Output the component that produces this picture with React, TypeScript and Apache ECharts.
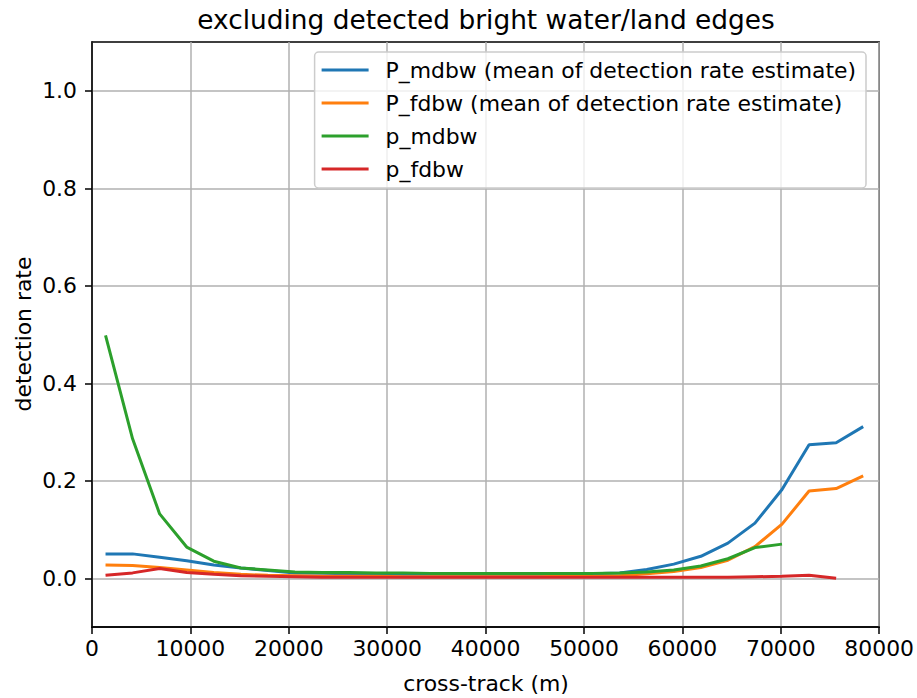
import React, { useEffect, useRef } from "react";
import * as echarts from "echarts";

const crossTrack = [
  1375, 4125, 6875, 9625, 12375, 15125, 17875, 20625, 23375, 26125, 28875,
  31625, 34375, 37125, 39875, 42625, 45375, 48125, 50875, 53625, 56375,
  59125, 61875, 64625, 67375, 70125, 72875, 75625, 78375,
];

const PmdbwMean = [
  0.05, 0.05, 0.043, 0.036, 0.027, 0.021, 0.016, 0.011, 0.01, 0.009, 0.009,
  0.008, 0.008, 0.008, 0.008, 0.008, 0.008, 0.009, 0.009, 0.011, 0.018,
  0.029, 0.045, 0.072, 0.113, 0.182, 0.274, 0.278, 0.311,
];

const PfdbwMean = [
  0.027, 0.026, 0.022, 0.017, 0.012, 0.008, 0.006, 0.005, 0.004, 0.004,
  0.004, 0.003, 0.003, 0.003, 0.003, 0.003, 0.003, 0.004, 0.004, 0.005,
  0.009, 0.014, 0.022, 0.037, 0.065, 0.111, 0.179, 0.184, 0.21,
];

const pMdbw = [
  0.498, 0.286, 0.132, 0.064, 0.035, 0.021, 0.017, 0.013, 0.012, 0.012,
  0.011, 0.011, 0.01, 0.01, 0.01, 0.01, 0.01, 0.01, 0.01, 0.011, 0.013,
  0.017, 0.025, 0.04, 0.063, 0.07,
];

const pFdbw = [
  0.006, 0.011, 0.02, 0.012, 0.008, 0.005, 0.004, 0.003, 0.002, 0.002,
  0.002, 0.002, 0.002, 0.002, 0.002, 0.002, 0.002, 0.002, 0.002, 0.002,
  0.002, 0.002, 0.002, 0.002, 0.003, 0.004, 0.006, 0.0,
];

const seriesNames = [
  "P_mdbw (mean of detection rate estimate)",
  "P_fdbw (mean of detection rate estimate)",
  "p_mdbw",
  "p_fdbw",
];
const seriesColors = ["#1f77b4", "#ff7f0e", "#2ca02c", "#d62728"];
const yTicks = [0, 0.2, 0.4, 0.6, 0.8, 1.0];

const FONT = "DejaVu Sans";
const FS = 21.9;

export default function App() {
  const ref = useRef<HTMLDivElement>(null);

  useEffect(() => {
    if (!ref.current) return;
    const chart = echarts.init(ref.current, undefined, { renderer: "svg" });
    const allValues = [PmdbwMean, PfdbwMean, pMdbw, pFdbw];
    const series = allValues.map((vals, k) => ({
      name: seriesNames[k],
      type: "line",
      data: vals.map((v, i) => [crossTrack[i], v]),
      showSymbol: false,
      symbol: "none",
      lineStyle: { color: seriesColors[k], width: 3 },
      itemStyle: { color: seriesColors[k] },
      color: seriesColors[k],
    }));

    chart.setOption({
      animation: false,
      backgroundColor: "#ffffff",
      textStyle: { fontFamily: FONT, color: "#000" },
      grid: {
        left: 92,
        right: 37,
        top: 42,
        bottom: 71,
        show: true,
        borderColor: "#000",
        borderWidth: 1.5,
        backgroundColor: "transparent",
      },
      xAxis: {
        type: "value",
        min: 0,
        max: 80000,
        interval: 10000,
        axisLine: { show: true, onZero: false, lineStyle: { color: "#000", width: 1.5 } },
        axisTick: { show: true, inside: false, length: 7, lineStyle: { color: "#000", width: 1.5 } },
        axisLabel: {
          color: "#000",
          fontSize: FS,
          fontFamily: FONT,
          margin: 10,
          formatter: (v: number) => String(v),
        },
        splitLine: { show: true, lineStyle: { color: "#b0b0b0", width: 1.5 } },
      },
      yAxis: {
        type: "value",
        min: -0.1,
        max: 1.1,
        axisLine: { show: true, onZero: false, lineStyle: { color: "#000", width: 1.5 } },
        axisTick: {
          show: true,
          inside: false,
          length: 7,
          customValues: yTicks,
          lineStyle: { color: "#000", width: 1.5 },
        },
        axisLabel: {
          color: "#000",
          fontSize: FS,
          fontFamily: FONT,
          margin: 15,
          customValues: yTicks,
          formatter: (v: number) => v.toFixed(1),
        },
        splitLine: { show: true, lineStyle: { color: "#b0b0b0", width: 1.5 } },
      },
      legend: {
        show: true,
        orient: "vertical",
        right: 51,
        top: 52,
        itemWidth: 47,
        itemHeight: 3,
        itemGap: 9,
        icon: "rect",
        padding: [6, 10, 7, 7],
        backgroundColor: "rgba(255,255,255,0.8)",
        borderColor: "#cccccc",
        borderWidth: 1.5,
        borderRadius: 4,
        data: seriesNames,
        textStyle: {
          color: "#000",
          fontSize: FS,
          fontFamily: FONT,
          lineHeight: 24,
          padding: [0, 0, 0, 12],
        },
      },
      graphic: [
        {
          type: "text",
          x: 486,
          y: 19,
          style: {
            text: "excluding detected bright water/land edges",
            fontSize: 26.4,
            fontFamily: FONT,
            fill: "#000",
            textAlign: "center",
            verticalAlign: "middle",
          },
        },
        {
          type: "text",
          x: 486,
          y: 683,
          style: {
            text: "cross-track (m)",
            fontSize: FS,
            fontFamily: FONT,
            fill: "#000",
            textAlign: "center",
            verticalAlign: "middle",
          },
        },
        {
          type: "text",
          x: 23,
          y: 334,
          rotation: Math.PI / 2,
          style: {
            text: "detection rate",
            fontSize: FS,
            fontFamily: FONT,
            fill: "#000",
            textAlign: "center",
            verticalAlign: "middle",
          },
        },
      ],
      series,
    });

    return () => {
      chart.dispose();
    };
  }, []);

  return (
    <div
      ref={ref}
      style={{ position: "absolute", left: 0, top: 0, width: 917, height: 698 }}
    />
  );
}
